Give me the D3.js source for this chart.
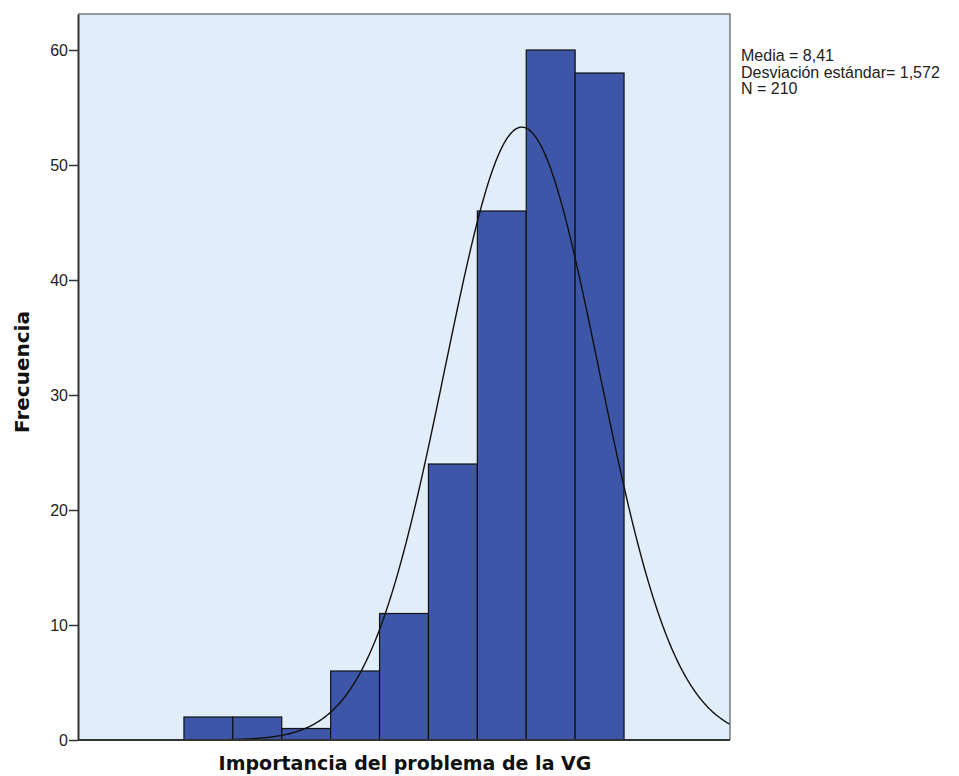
<!DOCTYPE html>
<html>
<head>
<meta charset="utf-8">
<script src="https://cdn.jsdelivr.net/npm/d3@7"></script>
<style>
  body { margin: 0; background: #fff; }
  text { font-family: Arial, "Liberation Sans", sans-serif; }
</style>
</head>
<body>
<script>
// Histogram data (values 2..10 of the scale)
const categories = [2, 3, 4, 5, 6, 7, 8, 9, 10];
const counts = [2, 2, 1, 6, 11, 24, 46, 60, 58];
const yTicks = [0, 10, 20, 30, 40, 50, 60];
const statsLines = ["Media = 8,41", "Desviación estándar= 1,572", "N = 210"];
const mean = 8.41, sd = 1.572, n = 210;

const margin = { top: 14, right: 229, bottom: 36, left: 78 },
    width = 959 - margin.left - margin.right,
    height = 776 - margin.top - margin.bottom;

const svg = d3.select("body")
    .append("svg")
    .attr("width", 959)
    .attr("height", 776);

const g = svg.append("g")
    .attr("transform", `translate(${margin.left},${margin.top})`);

// Scales
const x = d3.scaleLinear()
    .domain([-0.667, 12.667])
    .range([0, width]);

const y = d3.scaleLinear()
    .domain([0, 63.13])
    .range([height, 0]);

// Plot background
g.append("rect")
    .attr("width", width)
    .attr("height", height)
    .attr("fill", "#e1edf9");

g.append("clipPath").attr("id", "clip")
    .append("rect").attr("width", width).attr("height", height);

// Bars
g.selectAll(".bar")
    .data(categories.map((c, i) => ({ c: c, v: counts[i] })))
    .enter()
    .append("rect")
    .attr("class", "bar")
    .attr("x", d => x(d.c - 0.5))
    .attr("y", d => y(d.v))
    .attr("width", d => x(d.c + 0.5) - x(d.c - 0.5))
    .attr("height", d => height - y(d.v))
    .attr("fill", "#3e56a8")
    .attr("stroke", "#111")
    .attr("stroke-width", 1.2);

// Normal curve
const curvePts = d3.range(-0.667, 12.7, 0.02).map(v => [v,
    n * Math.exp(-0.5 * Math.pow((v - mean) / sd, 2)) / (sd * Math.sqrt(2 * Math.PI))]);

g.append("path")
    .datum(curvePts)
    .attr("clip-path", "url(#clip)")
    .attr("fill", "none")
    .attr("stroke", "#111")
    .attr("stroke-width", 1.4)
    .attr("d", d3.line().x(d => x(d[0])).y(d => y(d[1])));

// Frame (top and right)
g.append("path")
    .attr("d", `M0,0H${width}V${height}`)
    .attr("fill", "none")
    .attr("stroke", "#7a7a7a")
    .attr("stroke-width", 1.5);

// Y axis
const yAxis = g.append("g")
    .call(d3.axisLeft(y).tickValues(yTicks).tickSize(9).tickSizeOuter(0).tickPadding(1));
yAxis.select(".domain").attr("stroke", "#333").attr("stroke-width", 2);
yAxis.selectAll(".tick line").attr("stroke", "#333").attr("stroke-width", 1.5);
yAxis.selectAll(".tick text")
    .style("font-size", "16px")
    .attr("fill", "#222");

// X axis line (no tick labels)
g.append("line")
    .attr("x1", 0).attr("x2", width)
    .attr("y1", height).attr("y2", height)
    .attr("stroke", "#333")
    .attr("stroke-width", 2);

// Axis titles
svg.append("text")
    .attr("x", 405)
    .attr("y", 770)
    .attr("text-anchor", "middle")
    .style("font-family", "'DejaVu Sans', sans-serif")
    .style("font-size", "19px")
    .style("font-weight", "bold")
    .attr("fill", "#111")
    .text("Importancia del problema de la VG");

svg.append("text")
    .attr("transform", "translate(29,372) rotate(-90)")
    .attr("text-anchor", "middle")
    .style("font-family", "'DejaVu Sans', sans-serif")
    .style("font-size", "20px")
    .style("font-weight", "bold")
    .attr("fill", "#111")
    .text("Frecuencia");

// Stats annotation
svg.append("g")
    .attr("transform", "translate(741,61)")
    .selectAll("text")
    .data(statsLines)
    .enter()
    .append("text")
    .attr("y", (d, i) => i * 16.5)
    .style("font-size", "16px")
    .attr("fill", "#222")
    .text(d => d);
</script>
</body>
</html>
